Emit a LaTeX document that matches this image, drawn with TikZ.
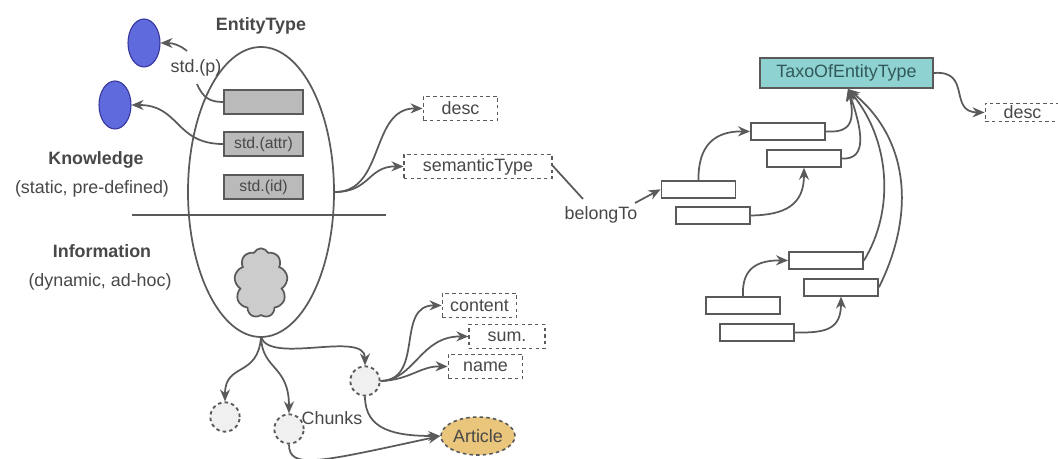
\documentclass[tikz,border=0pt]{standalone}
\usepackage{fontspec}
\setmainfont{Liberation Sans}
\usetikzlibrary{arrows.meta,shapes.geometric,shapes.symbols}
\definecolor{ink}{HTML}{5A5A5A}
\definecolor{txt}{HTML}{484848}
\definecolor{blueF}{HTML}{5F6BDD}
\definecolor{taxoF}{HTML}{8ED2D2}
\definecolor{artF}{HTML}{E9C67C}
\tikzset{
  lbl/.style={text=txt,font=\fontsize{13.4}{15}\selectfont,inner sep=0pt},
  lblb/.style={text=txt,font=\fontsize{13.4}{15}\selectfont\bfseries,inner sep=0pt},
  graybox/.style={draw=ink,line width=1.4pt,fill=black!27,minimum width=59.25pt,minimum height=18pt,inner sep=0pt,text=txt,font=\fontsize{11.8}{14}\selectfont},
  whitebox/.style={draw=ink,line width=1.4pt,fill=white,minimum width=55.5pt,minimum height=12.5pt,inner sep=0pt},
  dashbox/.style={draw=ink,dash pattern=on 2.6pt off 2.4pt,line width=.9pt,fill=white,minimum height=18pt,inner sep=0pt,text=txt,font=\fontsize{13.4}{15}\selectfont},
  dotcirc/.style={circle,draw=ink,dash pattern=on 2.6pt off 2.4pt,line width=1.4pt,fill=black!6,minimum size=22pt,inner sep=0pt},
  blueball/.style={ellipse,draw=ink!60!blue,line width=.8pt,fill=blueF,minimum width=24pt,minimum height=36pt,inner sep=0pt},
  conn/.style={draw=ink,line width=1.3pt,-{Stealth[length=9pt,width=7.5pt]}},
  plain/.style={draw=ink,line width=1.3pt},
}
\begin{document}
\begin{tikzpicture}[x=0.75pt,y=-0.75pt]
\useasboundingbox (0,0) rectangle (1058,459);
\clip (0,0) rectangle (1058,459);
\fill[white] (0,0) rectangle (1058,459);
% main ellipse
\node[ellipse,draw=ink,line width=1.3pt,minimum width=109.5pt,minimum height=217.5pt,inner sep=0pt] (ent) at (261,192) {};
\draw[plain] (132,215) -- (386,215);
\node[cloud,cloud puffs=9,cloud puff arc=130,aspect=0.8,draw=ink,line width=1.3pt,fill=black!20,minimum width=40pt,minimum height=52pt,inner sep=0pt] (cl) at (261,283) {};
% titles
\node[lblb] (t1) at (261,26) {EntityType};
\node[lblb] (t2) at (96,160) {Knowledge};
\node[lbl] (t3) at (92,189) {(static, pre-defined)};
\node[lblb] (t4) at (102,251) {Information};
\node[lbl] (t5) at (100,282) {(dynamic, ad-hoc)};
% blue
\node[blueball] (b1) at (144,43) {};
\node[blueball] (b2) at (115,105) {};
% gray boxes
\node[graybox] (g1) at (263.5,102) {};
\node[graybox] (g2) at (263.5,144) {std.(attr)};
\node[graybox] (g3) at (263.5,187) {std.(id)};
% std(p)
\node[lbl] (sp) at (196,68) {std.(p)};
\coordinate (spa) at (197,84);
\coordinate (spb) at (187,51);
\draw[plain] (g1.west) .. controls (210,102) and (203,98) .. (spa);
\draw[conn] (spb) .. controls (180,45) and (172,43) .. (b1.east);
\draw[conn] (g2.west) .. controls (175,144) and (180,105) .. (b2.east);
% dashed boxes
\node[dashbox,minimum width=56pt] (desc) at (460.5,108.5) {desc};
\node[dashbox,minimum width=111pt] (sem) at (478,166.5) {semanticType};
\node[lbl] (bt) at (601,215) {belongTo};
\coordinate (sema) at (552,165);
\coordinate (semb) at (583,199);
\coordinate (semc) at (635,203);
\coordinate (eo) at (335,192);
\draw[conn] (eo) .. controls (385,192) and (370,108) .. (desc.west);
\draw[conn] (eo) .. controls (370,192) and (368,166) .. (sem.west);
\draw[plain] (sema) -- (semb);
% right boxes
\node[draw=ink,line width=1.5pt,fill=taxoF,minimum width=129.5pt,minimum height=22.5pt,inner sep=0pt,text=txt!70!teal,font=\fontsize{13.4}{15}\selectfont] (taxo) at (846.5,73) {TaxoOfEntityType};
\node[dashbox,minimum width=56pt,minimum height=14pt] (d2) at (1022.5,112.5) {desc};
\node[whitebox] (r1) at (788,131.5) {};
\node[whitebox] (r2) at (804,158.5) {};
\node[whitebox] (r3) at (698.5,189.3) {};
\node[whitebox] (r4) at (713,215.5) {};
\node[whitebox] (r5) at (826,260.5) {};
\node[whitebox] (r6) at (841,287.3) {};
\node[whitebox] (r7) at (743,305.5) {};
\node[whitebox] (r8) at (757,332.5) {};
\coordinate (tip) at (848,89);
\draw[conn] (semc) -- (r3.west);
\draw[conn] (taxo.east) .. controls (972,70) and (948,112) .. (d2.west);
\draw[conn] (r3.north) .. controls (698,145) and (715,131) .. (r1.west);
\draw[conn] (r4.east) .. controls (785,215) and (804,205) .. (r2.south);
\draw[conn] (r7.north) .. controls (742,275) and (750,260) .. (r5.west);
\draw[conn] (r8.east) .. controls (825,333) and (841,330) .. (r6.south);
\draw[conn] (r1.east) .. controls (840,132) and (858,132) .. (tip);
\draw[conn] (r2.east) .. controls (868,160) and (862,130) .. (tip);
\draw[conn] (r5.east) .. controls (895,210) and (890,140) .. (tip);
\draw[conn] (r6.east) .. controls (915,215) and (910,140) .. (tip);
% lower
\coordinate (eb) at (261,337);
\node[dotcirc] (c1) at (225,417) {};
\node[dotcirc] (c2) at (289,429) {};
\node[dotcirc] (c3) at (365,381) {};
\node[lbl] (ch) at (332,418) {Chunks};
\node[dashbox,minimum width=56pt] (con) at (479.5,305.5) {content};
\node[dashbox,minimum width=57pt] (sum) at (507,336.5) {sum.};
\node[dashbox,minimum width=56pt] (nam) at (485.5,366.5) {name};
\node[ellipse,draw=ink,dash pattern=on 2.6pt off 2.4pt,line width=1.2pt,fill=artF,minimum width=55.5pt,minimum height=28.5pt,inner sep=0pt,text=txt,font=\fontsize{13.4}{15}\selectfont] (art) at (478,436) {Article};
\draw[conn] (eb) .. controls (258,378) and (225,362) .. (c1.north);
\draw[conn] (eb) .. controls (262,370) and (289,365) .. (c2.north);
\draw[conn] (eb) .. controls (270,365) and (365,330) .. (c3.north);
\draw[conn] (c3.east) .. controls (425,380) and (395,305) .. (con.west);
\draw[conn] (c3.east) .. controls (415,380) and (420,336) .. (sum.west);
\draw[conn] (c3.east) .. controls (410,380) and (420,366) .. (nam.west);
\draw[conn] (c3.south) .. controls (365,430) and (395,436) .. (art.west);
\draw[conn] (c2.south) .. controls (289,470) and (320,462) .. (art.west);
\end{tikzpicture}
\end{document}
